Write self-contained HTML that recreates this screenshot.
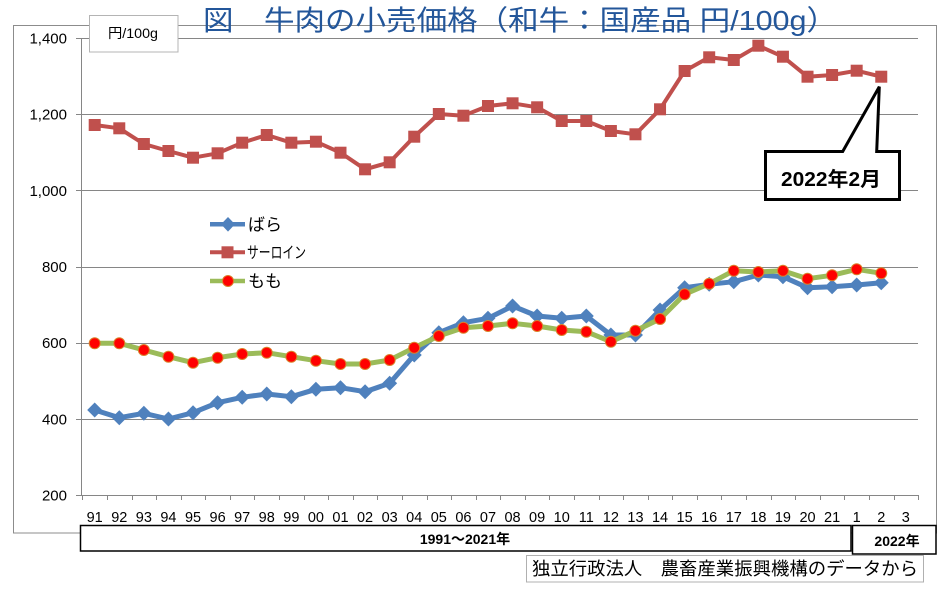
<!DOCTYPE html>
<html><head><meta charset="utf-8"><style>
html,body{margin:0;padding:0;background:#fff;}
svg{display:block;}
</style></head><body>
<svg id="c" width="946" height="589" viewBox="0 0 946 589" xmlns="http://www.w3.org/2000/svg" font-family="'Liberation Sans','Noto Sans CJK JP',sans-serif">
<rect x="0" y="0" width="946" height="589" fill="#fff"/>
<rect x="13.5" y="25.5" width="923" height="507.5" fill="none" stroke="#8c8c8c" stroke-width="1"/>
<g id="grid" stroke="#868686" stroke-width="1"></g>
<line x1="81.5" y1="38" x2="81.5" y2="495" stroke="#868686" stroke-width="1"/>
<g id="ticks" stroke="#868686" stroke-width="1"></g>
<g id="ylab" font-size="15" fill="#000" text-anchor="end"></g>
<g id="xlab" font-size="14.5" fill="#000" text-anchor="middle"></g>
<rect x="89.5" y="15.5" width="88.5" height="36.5" fill="#fff" stroke="#b4b4b4" stroke-width="1"/>
<text x="133" y="38" font-size="14" text-anchor="middle" fill="#000" textLength="50" lengthAdjust="spacingAndGlyphs">円/100g</text>
<text x="203" y="30" font-size="28" fill="#23569a" font-family="'Liberation Sans','Noto Sans CJK JP',sans-serif" textLength="634" lengthAdjust="spacingAndGlyphs">図　牛肉の小売価格（和牛：国産品 円/100g）</text>
<g id="series"></g>
<!-- legend -->
<line x1="210" y1="224.3" x2="245" y2="224.3" stroke="#4f81bd" stroke-width="4.5"/>
<polygon points="228,217 235,224.3 228,231.6 221,224.3" fill="#4f81bd"/>
<text x="248" y="230.5" font-size="17" fill="#000">ばら</text>
<line x1="210" y1="252.3" x2="245" y2="252.3" stroke="#c0504d" stroke-width="4"/>
<rect x="221.5" y="246.3" width="12" height="12" fill="#c0504d"/>
<text x="247" y="258" font-size="16" fill="#000" textLength="59" lengthAdjust="spacingAndGlyphs">サーロイン</text>
<line x1="210" y1="281" x2="245" y2="281" stroke="#9bbb59" stroke-width="4.5"/>
<circle cx="228" cy="281" r="5.5" fill="#ff0000" stroke="#d9822b" stroke-width="1"/>
<text x="248" y="287" font-size="17" fill="#000">もも</text>
<!-- callout -->
<polygon points="765.5,151.5 842.7,151.5 879.3,86.7 876.7,151.5 899.5,151.5 899.5,199.5 765.5,199.5" fill="#fff" stroke="#000" stroke-width="3" stroke-linejoin="miter"/>
<text x="831" y="186" font-size="20" font-weight="bold" text-anchor="middle" fill="#000" textLength="100" lengthAdjust="spacingAndGlyphs">2022年2月</text>
<!-- bottom boxes -->
<rect x="80.5" y="525.5" width="770.5" height="25.5" fill="#fff" stroke="#000" stroke-width="1.5"/>
<text x="465" y="544" font-size="14" font-weight="bold" text-anchor="middle" fill="#000">1991～2021年</text>
<rect x="852.5" y="525.5" width="83.5" height="28.5" fill="#fff" stroke="#000" stroke-width="1.5"/>
<text x="897" y="546" font-size="14" font-weight="bold" text-anchor="middle" fill="#000">2022年</text>
<rect x="526.5" y="555.5" width="397" height="26.5" fill="#fff" stroke="#b0b0b0" stroke-width="1"/>
<text x="532" y="575" font-size="18" fill="#000" textLength="386" lengthAdjust="spacingAndGlyphs">独立行政法人　農畜産業振興機構のデータから</text>
</svg>
<script>
(function(){
var NS="http://www.w3.org/2000/svg";
function el(t,a,p){var e=document.createElementNS(NS,t);for(var k in a)e.setAttribute(k,a[k]);p.appendChild(e);return e;}
var grid=document.getElementById('grid'),ticks=document.getElementById('ticks'),ylab=document.getElementById('ylab'),xlab=document.getElementById('xlab'),ser=document.getElementById('series');
var ys=[38,114.2,190.3,266.5,342.7,418.8,495],yl=['1,400','1,200','1,000','800','600','400','200'];
for(var i=0;i<7;i++){var y=Math.round(ys[i])+0.5;
el('line',{x1:81.5,y1:y,x2:918,y2:y},grid);
el('line',{x1:76,y1:y,x2:81.5,y2:y},ticks);
var t=el('text',{x:67,y:ys[i]+5.5},ylab);t.textContent=yl[i];}
var x0=82.4,st=24.58;
for(var i=0;i<=34;i++){var x=Math.round(x0+st*i)+0.5;el('line',{x1:x,y1:495,x2:x,y2:500},ticks);}
var cats=['91','92','93','94','95','96','97','98','99','00','01','02','03','04','05','06','07','08','09','10','11','12','13','14','15','16','17','18','19','20','21','1','2','3'];
for(var i=0;i<34;i++){var t=el('text',{x:x0+st*(i+0.5),y:522},xlab);t.textContent=cats[i];}
function X(i){return 94.7+st*i;}
var sir=[125,128.3,144,151,157.7,153.3,142.7,135,142.7,141.7,152.7,169.3,162.3,136.7,114,115.7,106,103.3,107.3,121,121,131,134.3,109.3,71,57.3,60,45.7,56.7,76.7,75,70.7,76.7];
var bara=[410,417.7,413.3,419,412.7,402.7,397.3,394,396.7,389.3,387.7,391.7,383.3,355,332.7,322.7,318.3,306,316,318.3,316,335,335,310,287.7,284.3,281.7,275,276.7,287.7,286.7,285,282.7];
var momo=[343.3,343.3,350,356.7,362.7,357.7,354,352.7,356.7,360.7,364,364,360,347.7,336,327.7,326,323.3,326,330,331.7,341.7,330.7,319,294.3,283.7,270.7,272,270.7,278.7,275.3,269.3,273.3];
function pts(a){return a.map(function(v,i){return X(i).toFixed(1)+','+v;}).join(' ');}
el('polyline',{points:pts(bara),fill:'none',stroke:'#4f81bd','stroke-width':5,'stroke-linejoin':'round'},ser);
bara.forEach(function(v,i){var x=X(i);el('polygon',{points:(x)+','+(v-7.5)+' '+(x+7.5)+','+v+' '+x+','+(v+7.5)+' '+(x-7.5)+','+v,fill:'#4f81bd'},ser);});
el('polyline',{points:pts(sir),fill:'none',stroke:'#c0504d','stroke-width':4,'stroke-linejoin':'round'},ser);
sir.forEach(function(v,i){el('rect',{x:X(i)-6,y:v-6,width:12,height:12,fill:'#c0504d'},ser);});
el('polyline',{points:pts(momo),fill:'none',stroke:'#9bbb59','stroke-width':5,'stroke-linejoin':'round'},ser);
momo.forEach(function(v,i){el('circle',{cx:X(i),cy:v,r:5.5,fill:'#ff0000',stroke:'#d9822b','stroke-width':1},ser);});
})();
</script>
</body></html>
